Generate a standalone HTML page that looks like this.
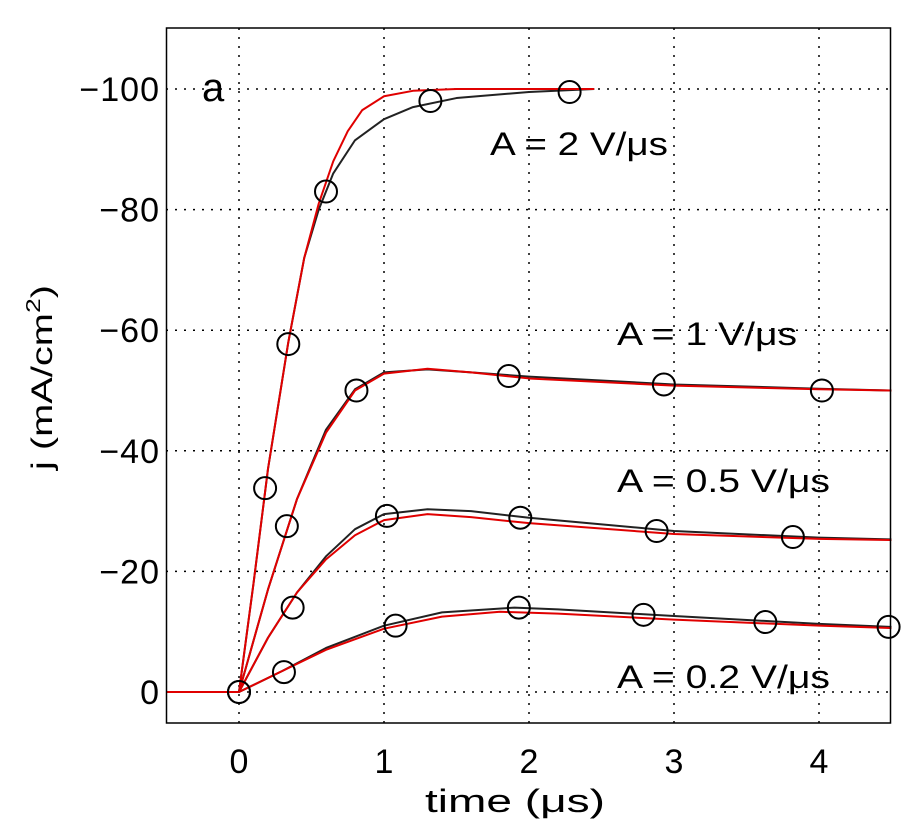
<!DOCTYPE html>
<html><head><meta charset="utf-8"><style>
body{margin:0;background:#fff}
svg text{font-family:"Liberation Sans",Arial,sans-serif;fill:#000}
</style></head><body>
<svg id="c" width="906" height="834">
<g id="grid"></g>
<g id="series"></g>
<rect x="166.5" y="28" width="724" height="695" fill="none" stroke="#000" stroke-width="1.5"/>
<g id="ticks"></g>
<text x="202" y="101" font-size="40">a</text>
<text x="490" y="155" font-size="32" textLength="178" lengthAdjust="spacingAndGlyphs">A = 2 V/μs</text>
<text x="617" y="345" font-size="32" textLength="180" lengthAdjust="spacingAndGlyphs">A = 1 V/μs</text>
<text x="617" y="492" font-size="32" textLength="213" lengthAdjust="spacingAndGlyphs">A = 0.5 V/μs</text>
<text x="617" y="688" font-size="32" textLength="213" lengthAdjust="spacingAndGlyphs">A = 0.2 V/μs</text>
<text x="425" y="812" font-size="32" textLength="180" lengthAdjust="spacingAndGlyphs">time (μs)</text>
<text transform="translate(52,470) rotate(-90)" font-size="30" textLength="185" lengthAdjust="spacingAndGlyphs">j (mA/cm<tspan font-size="20" dy="-12">2</tspan><tspan dy="12">)</tspan></text>
</svg>
<script>
const xTicks=[0,1,2,3,4];
const yTicks=[0,-20,-40,-60,-80,-100];
const yTickLabels=["0","\u221220","\u221240","\u221260","\u221280","\u2212100"];
const a2Red=[[-0.5,0],[0,0],[0.1,-18],[0.2,-37],[0.34,-58],[0.45,-72],[0.55,-81],[0.65,-88],[0.75,-93],[0.85,-96.5],[1.0,-98.8],[1.2,-99.7],[1.5,-100],[2.45,-100]];
const a2Black=[[-0.5,0],[0,0],[0.1,-18],[0.2,-37],[0.34,-58],[0.45,-72],[0.55,-80],[0.65,-86],[0.8,-91.5],[1.0,-95],[1.2,-97],[1.5,-98.5],[2.0,-99.5],[2.45,-100]];
const a2Markers=[[0,0],[0.18,-33.8],[0.34,-57.7],[0.6,-83],[1.32,-98],[2.28,-99.5]];
const a1Red=[[0,0],[0.2,-17],[0.4,-32],[0.6,-43],[0.8,-50],[1.0,-52.8],[1.3,-53.6],[1.6,-53],[2,-52],[3,-50.8],[4,-50.2],[4.5,-50]];
const a1Black=[[0,0],[0.2,-17],[0.4,-32],[0.6,-43.5],[0.8,-50.2],[1.0,-53],[1.3,-53.5],[1.6,-53],[2,-52.3],[3,-51],[4,-50.3],[4.5,-50]];
const a1Markers=[[0.33,-27.5],[0.81,-50],[1.86,-52.4],[2.93,-51],[4.02,-50]];
const a05Red=[[0,0],[0.2,-9],[0.4,-16.5],[0.6,-22],[0.8,-26],[1.0,-28.5],[1.3,-29.5],[1.6,-29],[2,-28],[3,-26.2],[4,-25.4],[4.5,-25.2]];
const a05Black=[[0,0],[0.2,-9],[0.4,-16.5],[0.6,-22.5],[0.8,-27],[1.0,-29.5],[1.3,-30.3],[1.6,-30],[2,-28.9],[3,-26.7],[4,-25.6],[4.5,-25.3]];
const a05Markers=[[0.37,-14],[1.02,-29.2],[1.94,-28.9],[2.88,-26.7],[3.82,-25.7]];
const a02Red=[[0,0],[0.3,-3.5],[0.6,-7],[1.0,-10.5],[1.4,-12.5],[1.8,-13.3],[2.2,-13],[3,-12],[4,-11],[4.5,-10.6]];
const a02Black=[[0,0],[0.3,-3.5],[0.6,-7.3],[1.0,-11],[1.4,-13.2],[1.9,-14],[2.2,-13.7],[3,-12.6],[4,-11.3],[4.5,-10.8]];
const a02Markers=[[0.31,-3.3],[1.08,-11],[1.93,-14],[2.79,-12.8],[3.63,-11.6],[4.48,-10.8]];
const NS="http://www.w3.org/2000/svg";
const X=v=>239+v*145, Y=v=>692+v*6.03;
function mk(t,p,at){const e=document.createElementNS(NS,t);for(const k in at)e.setAttribute(k,at[k]);p.appendChild(e);return e;}
const grid=document.getElementById('grid'),tk=document.getElementById('ticks'),sr=document.getElementById('series');
xTicks.forEach(v=>{
 const l=mk('line',grid,{x1:X(v),x2:X(v),y1:28,y2:723,stroke:'#000','stroke-dasharray':'2,7','stroke-width':1.5});
 
 
 const t=mk('text',tk,{x:X(v),y:773,'font-size':34,'text-anchor':'middle'});t.textContent=v;
 
 
});
yTicks.forEach((v,i)=>{
 const l=mk('line',grid,{x1:166,x2:891,y1:Y(v),y2:Y(v),stroke:'#000','stroke-dasharray':'2,7','stroke-width':1.5});
 
 
 const t=mk('text',tk,{x:160,y:Y(v)+12,'font-size':34,'text-anchor':'end','letter-spacing':'1'});t.textContent=yTickLabels[i];
 
 
});
function line(d,col,name){
 const p=mk('polyline',sr,{points:d.map(q=>X(q[0])+','+Y(q[1])).join(' '),fill:'none',stroke:col,'stroke-width':2,'stroke-linejoin':'round'});
 
 
}
function marks(d,name){d.forEach(q=>{
 const c=mk('circle',sr,{cx:X(q[0]),cy:Y(q[1]),r:11,fill:'none',stroke:'#000','stroke-width':2});
 
 
});}
line(a2Black,'#222','a2-measured-line');line(a2Red,'#e00000','a2-fit-line');marks(a2Markers,'a2-marker');
line(a1Black,'#222','a1-measured-line');line(a1Red,'#e00000','a1-fit-line');marks(a1Markers,'a1-marker');
line(a05Black,'#222','a05-measured-line');line(a05Red,'#e00000','a05-fit-line');marks(a05Markers,'a05-marker');
line(a02Black,'#222','a02-measured-line');line(a02Red,'#e00000','a02-fit-line');marks(a02Markers,'a02-marker');
marks([[0,0]],'origin-marker');
</script>
</body></html>
